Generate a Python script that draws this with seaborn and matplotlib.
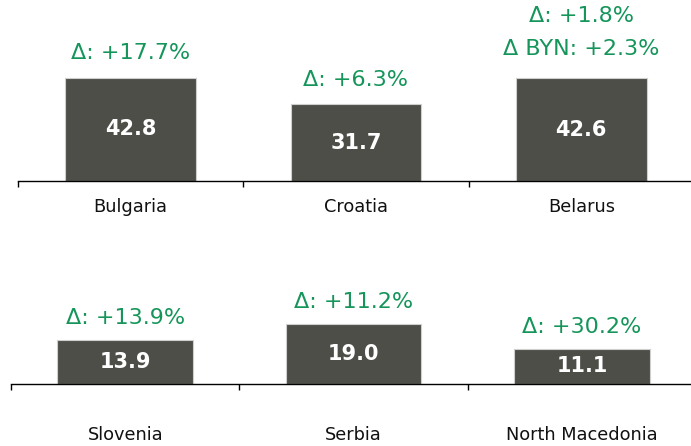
import matplotlib
matplotlib.use("Agg")
import matplotlib.pyplot as plt
import seaborn as sns
import pandas as pd

# top row
top_countries = ["Bulgaria", "Croatia", "Belarus"]
top_values = [42.8, 31.7, 42.6]
top_changes = ["Δ: +17.7%", "Δ: +6.3%", "Δ: +1.8%\nΔ BYN: +2.3%"]

# bottom row
bot_countries = ["Slovenia", "Serbia", "North Macedonia"]
bot_values = [13.9, 19.0, 11.1]
bot_changes = ["Δ: +13.9%", "Δ: +11.2%", "Δ: +30.2%"]

bar_color = "#4e4e49"
green = "#15955a"

sns.set_style("white")
plt.rcParams["font.family"] = ["DejaVu Sans"]

fig = plt.figure(figsize=(6.91, 4.46), dpi=100)
W, H = 691, 446


def draw_row(rect, countries, values, changes, ylim, label_pad, bar_w, offset):
    ax = fig.add_axes(rect)
    df = pd.DataFrame({"country": countries, "value": values})
    sns.barplot(data=df, x="country", y="value", color=bar_color, width=bar_w,
                saturation=1, edgecolor="#cfcfcf", linewidth=0.8, ax=ax)
    ax.set_xlim(-0.5, len(countries) - 0.5)
    ax.set_ylim(0, ylim)
    for s in ["top", "right", "left"]:
        ax.spines[s].set_visible(False)
    ax.spines["bottom"].set_color("black")
    ax.spines["bottom"].set_linewidth(1.0)
    ax.set_yticks([])
    ax.set_xlabel("")
    ax.set_ylabel("")
    bounds = [i - 0.5 for i in range(len(countries) + 1)]
    ax.set_xticks(bounds, labels=[""] * len(bounds))
    ax.tick_params(axis="x", which="major", bottom=True, direction="out",
                   length=4.5, width=1.0, color="black")
    ax.set_xticks(range(len(countries)), labels=countries, minor=True)
    ax.tick_params(axis="x", which="minor", bottom=True, length=0,
                   pad=label_pad, labelsize=12.8, labelcolor="#111111")
    for i, (v, c) in enumerate(zip(values, changes)):
        ax.text(i, v / 2, f"{v:.1f}", ha="center", va="center", color="white",
                fontsize=15, fontweight="bold")
        # two-line notes sit a little higher in the original
        extra = 3.5 * c.count("\n")
        ax.annotate(c, (i, v), xytext=(0, offset + extra), textcoords="offset points",
                    ha="center", va="bottom", color=green, fontsize=16,
                    linespacing=1.8, annotation_clip=False)
    return ax


# top axes: baseline at y=181px, category width 225px starting at x=18
cw_top = 225.3
top_rect = [18 / W, (H - 181) / H, 3 * cw_top / W, 60 * 2.414 / H]
draw_row(top_rect, top_countries, top_values, top_changes, 60, 12.5, 0.58, 10.5)

# bottom axes: baseline at y=384px, category width 228px starting at x=11
cw_bot = 228.4
bot_rect = [11 / W, (H - 384) / H, 3 * cw_bot / W, 25 * 3.17 / H]
draw_row(bot_rect, bot_countries, bot_values, bot_changes, 25, 30.5, 0.594, 8.5)

fig.savefig("out.png", dpi=100)
